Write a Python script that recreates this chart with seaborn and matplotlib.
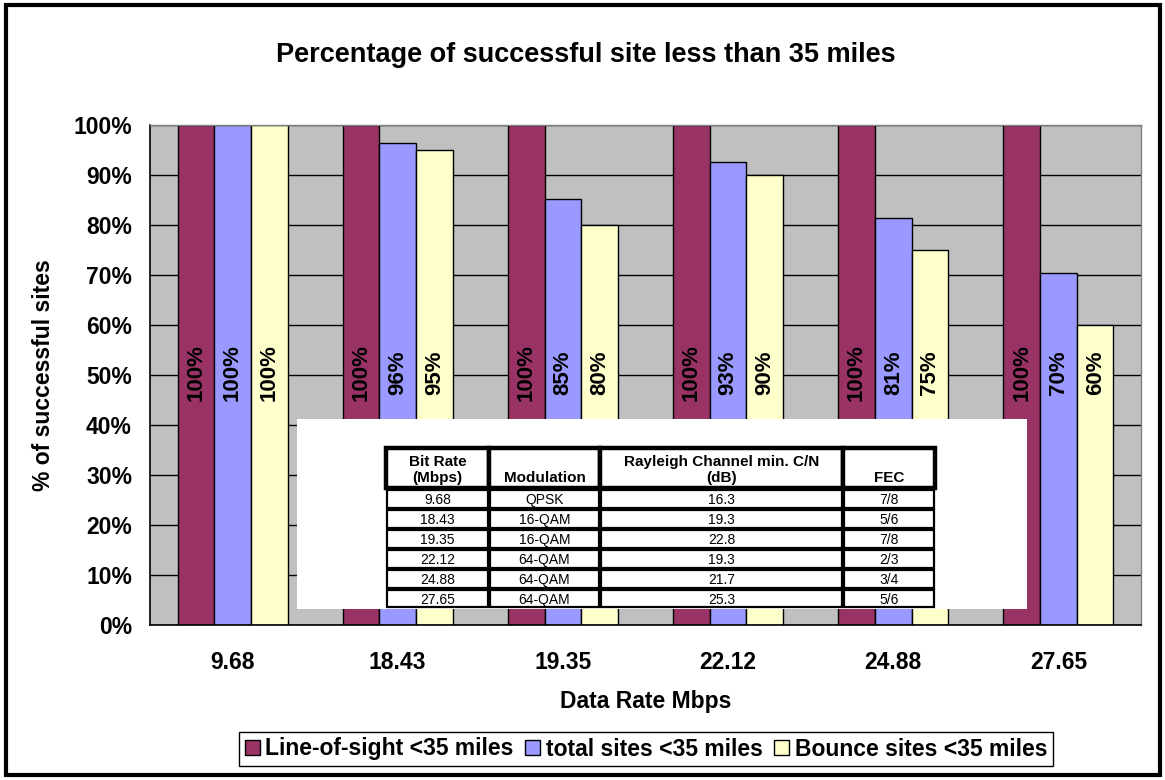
import matplotlib
matplotlib.use("Agg")
import matplotlib.pyplot as plt
from matplotlib.patches import Rectangle
from matplotlib.ticker import FixedLocator
import numpy as np
import pandas as pd
import seaborn as sns

# Bar data (percent of successful sites)
data_rates = ["9.68", "18.43", "19.35", "22.12", "24.88", "27.65"]
series_names = ["Line-of-sight <35 miles", "total sites <35 miles", "Bounce sites <35 miles"]
line_of_sight = [100, 100, 100, 100, 100, 100]
total_sites = [100, 96.4, 85.2, 92.6, 81.4, 70.4]
bounce_sites = [100, 95, 80, 90, 75, 60]
colors = ["#993366", "#9999FF", "#FFFFCC"]

# Modulation table
table_header = ["Bit Rate\n(Mbps)", "Modulation", "Rayleigh Channel min. C/N\n(dB)", "FEC"]
bit_rates = ["9.68", "18.43", "19.35", "22.12", "24.88", "27.65"]
modulations = ["QPSK", "16-QAM", "16-QAM", "64-QAM", "64-QAM", "64-QAM"]
cn_db = ["16.3", "19.3", "22.8", "19.3", "21.7", "25.3"]
fec = ["7/8", "5/6", "7/8", "2/3", "3/4", "5/6"]

sns.set_theme(style="white")
plt.rcParams["font.family"] = ["Liberation Sans", "DejaVu Sans"]
plt.rcParams.update({"text.color": "black", "axes.labelcolor": "black",
                     "xtick.color": "black", "ytick.color": "black"})

df = pd.DataFrame({
    "rate": data_rates * 3,
    "pct": line_of_sight + total_sites + bounce_sites,
    "series": [s for s in series_names for _ in data_rates],
})

W, H = 1165, 780
fig = plt.figure(figsize=(W / 100, H / 100), dpi=100)
fig.patch.set_facecolor("white")

ax = fig.add_axes([150 / W, 1 - 625 / H, (1141 - 150) / W, 500 / H])
ax.set_facecolor("#C0C0C0")
ax.set_axisbelow(True)

sns.barplot(data=df, x="rate", y="pct", hue="series", order=data_rates,
            hue_order=series_names, palette=colors, width=0.667,
            edgecolor="black", linewidth=1.0, saturation=1, ax=ax, legend=True)

ax.set_ylim(0, 100)
ax.set_xlim(-0.5, len(data_rates) - 0.5)
ax.set_yticks(np.arange(0, 101, 10))
ax.set_yticklabels([f"{v}%" for v in range(0, 101, 10)], fontsize=16.5, fontweight="bold")
ax.yaxis.grid(True, color="black", linewidth=1.0)
ax.xaxis.grid(False)
ax.tick_params(axis="y", length=7, width=1, color="black", direction="out", pad=6)
ax.tick_params(axis="x", which="major", length=0, pad=19, labelsize=16.5)
for lbl in ax.get_xticklabels():
    lbl.set_fontweight("bold")
ax.xaxis.set_minor_locator(FixedLocator(np.arange(-0.5, len(data_rates), 1.0)))
ax.tick_params(axis="x", which="minor", length=7, width=1, color="black", direction="out")

for side in ["left", "bottom"]:
    ax.spines[side].set_color("black")
    ax.spines[side].set_linewidth(1.2)
for side in ["top", "right"]:
    ax.spines[side].set_color("#808080")
    ax.spines[side].set_linewidth(1.0)

ax.set_xlabel("Data Rate Mbps", fontsize=16.5, fontweight="bold", labelpad=11)
ax.set_ylabel("% of successful sites", fontsize=16.5, fontweight="bold", labelpad=13)

# Value labels sit at mid-height of the value axis, rotated inside each bar
for cont in ax.containers:
    for bar in cont:
        v = bar.get_height()
        ax.text(bar.get_x() + bar.get_width() / 2, 50.5, f"{v:.0f}%",
                rotation=90, ha="center", va="center", fontsize=16,
                fontweight="bold", color="black", zorder=4)

fig.suptitle("Percentage of successful site less than 35 miles", x=586 / W, y=1 - 55 / H,
             va="center", fontsize=19.5, fontweight="bold", color="black")

# Legend along the bottom
handles, labels = ax.get_legend_handles_labels()
ax.get_legend().remove()
leg = fig.legend(handles, labels, loc="center", bbox_to_anchor=(646 / W, 1 - 749 / H),
                 ncol=3, prop={"weight": "bold", "size": 16.5},
                 frameon=True, fancybox=False, edgecolor="black", framealpha=1,
                 handlelength=0.65, handleheight=0.65, handletextpad=0.25,
                 columnspacing=0.5, borderpad=0.25, borderaxespad=0)
leg.get_frame().set_linewidth(1.0)

# White panel holding the modulation table
tx0, ty0, tx1, ty1 = 297, 419, 1027, 609
tab = fig.add_axes([tx0 / W, 1 - ty1 / H, (tx1 - tx0) / W, (ty1 - ty0) / H])
tab.set_xlim(tx0, tx1)
tab.set_ylim(ty1, ty0)
tab.set_facecolor("white")
tab.axis("off")
tab.add_patch(Rectangle((tx0, ty0), tx1 - tx0, ty1 - ty0, facecolor="white",
                        edgecolor="none", zorder=0))

col_edges = [386, 489, 600, 843, 935]
head_top, head_bot = 448, 488
row_edges = [489, 509, 529, 549, 569, 589, 608]

for i in range(4):
    x0, x1 = col_edges[i], col_edges[i + 1]
    tab.add_patch(Rectangle((x0, head_top), x1 - x0, head_bot - head_top,
                            facecolor="white", edgecolor="black", linewidth=3.2, zorder=2))
    tab.text((x0 + x1) / 2, head_bot - 3, table_header[i], ha="center", va="bottom",
             fontsize=11, fontweight="bold", linespacing=1.2, zorder=3)

columns = [bit_rates, modulations, cn_db, fec]
for r in range(len(bit_rates)):
    y0, y1 = row_edges[r], row_edges[r + 1]
    for i in range(4):
        x0, x1 = col_edges[i], col_edges[i + 1]
        tab.add_patch(Rectangle((x0 + 1, y0 + 1), x1 - x0 - 2, y1 - y0 - 2,
                                facecolor="white", edgecolor="black", linewidth=1.6, zorder=2))
        tab.text((x0 + x1) / 2, (y0 + y1) / 2 + 1.2, columns[i][r], ha="center",
                 va="center", fontsize=10, zorder=3)

# Outer frame around the whole chart
fig.add_artist(Rectangle((6 / W, 5 / H), (1160 - 6) / W, (775 - 5) / H,
                         transform=fig.transFigure, fill=False, edgecolor="black",
                         linewidth=3.0))

fig.savefig("out.png", dpi=100, facecolor="white")
